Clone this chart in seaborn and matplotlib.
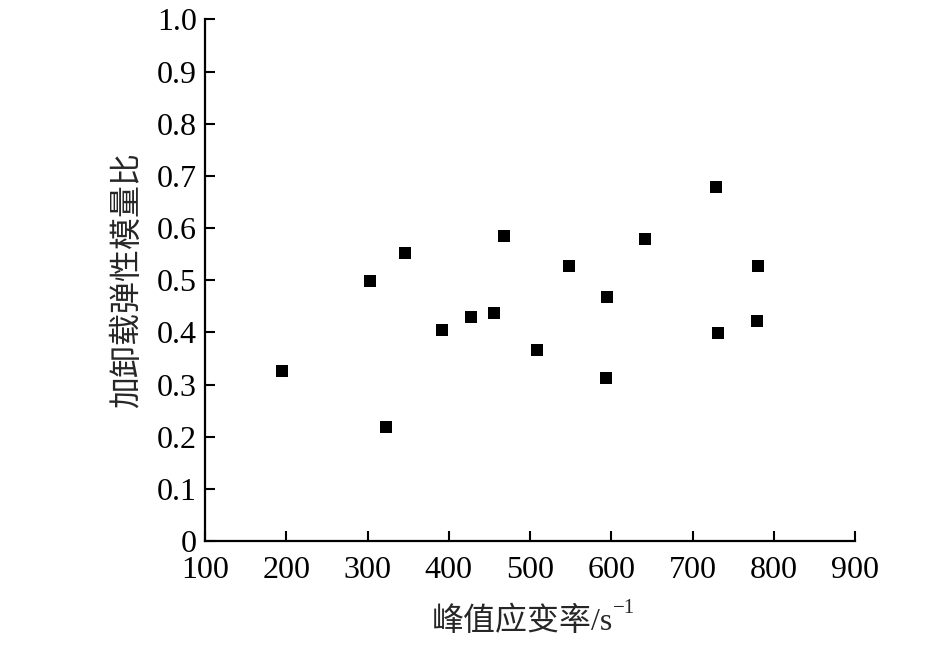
import numpy as np
import pandas as pd
import matplotlib
matplotlib.use('Agg')
import matplotlib.pyplot as plt
import seaborn as sns

# data
strain_rate = [195, 303, 346, 323, 392, 427, 455, 468, 508, 548,
               594, 593, 641, 729, 731, 779, 780]
modulus_ratio = [0.326, 0.499, 0.552, 0.218, 0.404, 0.430, 0.437, 0.584, 0.366, 0.527,
                 0.467, 0.312, 0.579, 0.678, 0.399, 0.422, 0.527]
x_ticks = [100, 200, 300, 400, 500, 600, 700, 800, 900]
y_ticks = [0, 0.1, 0.2, 0.3, 0.4, 0.5, 0.6, 0.7, 0.8, 0.9, 1.0]
y_tick_labels = ['0', '0.1', '0.2', '0.3', '0.4', '0.5', '0.6', '0.7', '0.8', '0.9', '1.0']

df = pd.DataFrame({'rate': strain_rate, 'ratio': modulus_ratio})

sns.set_style('ticks')
plt.rcParams['font.family'] = ['Liberation Serif', 'Noto Sans CJK SC']

fig = plt.figure(figsize=(9.45, 6.45), dpi=100)
ax = fig.add_axes([0.217, 0.161, 0.688, 0.809])

sns.scatterplot(data=df, x='rate', y='ratio', marker='s', s=70, color='black',
                edgecolor='black', linewidth=0, ax=ax)

ax.set_xlim(100, 900)
ax.set_ylim(0, 1.0)
ax.set_xticks(x_ticks)
ax.set_yticks(y_ticks)
ax.set_yticklabels(y_tick_labels)
ax.tick_params(direction='in', length=7, width=1.5, labelsize=23, colors='black')
ax.tick_params(axis='x', pad=11)
ax.tick_params(axis='y', pad=6)
for side in ['left', 'bottom']:
    ax.spines[side].set_linewidth(1.6)
    ax.spines[side].set_color('black')
sns.despine(ax=ax)

ax.set_xlabel('峰值应变率/s', fontsize=23)
ax.xaxis.set_label_coords(0.488, -0.125)
ax.set_ylabel('加卸载弹性模量比', fontsize=23, labelpad=10)
# superscript -1 next to the x label
ax.annotate('\u22121', xy=(1, 0.62), xycoords=ax.xaxis.label, fontsize=15,
            ha='left', va='bottom')

fig.savefig('out.png', dpi=100)
